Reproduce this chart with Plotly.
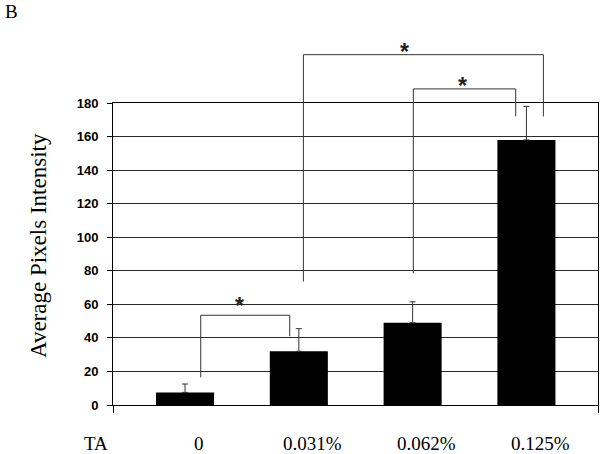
import plotly.graph_objects as go

# ---- data ----
categories = ["0", "0.031%", "0.062%", "0.125%"]
group_label = "TA"
means = [7.5, 32, 49, 158]
errors_up = [5, 13.5, 12.5, 20]
y_ticks = [0, 20, 40, 60, 80, 100, 120, 140, 160, 180]

# significance brackets (x in category-index units, y in data units)
brackets = [
    dict(x0=0.138, y0=16.5, x1=0.92, y1=41, top=53.5, star_x=0.483, star_y=62.6),
    dict(x0=1.04, y0=73.6, x1=3.149, y1=172, top=208.8, star_x=1.93, star_y=213.8),
    dict(x0=2.006, y0=78.6, x1=2.906, y1=172, top=188.4, star_x=2.44, star_y=193.9),
]

XR = [-0.633, 3.629]
YMAX = 180
W, H = 602, 454
ML, MR, MT, MB = 113, 4, 103, 49

def xp(x):
    return (x - XR[0]) / (XR[1] - XR[0])

def yp(y):
    return y / YMAX

xs = list(range(len(categories)))

fig = go.Figure()
fig.add_trace(go.Bar(
    x=xs, y=means, width=0.51,
    marker=dict(color="black", line=dict(width=0)),
    error_y=dict(type="data", array=errors_up, arrayminus=[0] * len(means),
                 symmetric=False, color="#333333", thickness=1, width=3),
))

shapes = []
annotations = []
line_style = dict(color="#333333", width=1)
for b in brackets:
    shapes.append(dict(type="path", xref="paper", yref="paper",
                       path=f"M {xp(b['x0'])} {yp(b['y0'])} L {xp(b['x0'])} {yp(b['top'])} "
                            f"L {xp(b['x1'])} {yp(b['top'])} L {xp(b['x1'])} {yp(b['y1'])}",
                       line=line_style))
    annotations.append(dict(x=xp(b['star_x']), y=yp(b['star_y']), xref="paper", yref="paper",
                            text="<b>*</b>", showarrow=False, xanchor="center", yanchor="middle",
                            yshift=-6,
                            font=dict(family="Liberation Sans", size=23, color="#222222")))

# category labels
for i, c in enumerate(categories):
    annotations.append(dict(x=xp(i + 0.12), y=(-38) / (H - MT - MB), xref="paper", yref="paper",
                            text=c, showarrow=False, xanchor="center", yanchor="middle",
                            font=dict(family="Liberation Serif", size=19, color="black")))
annotations.append(dict(x=-17 / (W - ML - MR), y=(-38) / (H - MT - MB), xref="paper", yref="paper",
                        text=group_label, showarrow=False, xanchor="center", yanchor="middle",
                        font=dict(family="Liberation Serif", size=19, color="black")))
# y title
annotations.append(dict(x=(38 - ML) / (W - ML - MR), y=(H - MB - 246) / (H - MT - MB),
                        xref="paper", yref="paper", text="Average Pixels Intensity",
                        textangle=-90, showarrow=False, xanchor="center", yanchor="middle",
                        font=dict(family="Liberation Serif", size=23, color="black")))
# panel letter
annotations.append(dict(x=(3 - ML) / (W - ML - MR), y=(H - MB - 12) / (H - MT - MB),
                        xref="paper", yref="paper", text="B", showarrow=False,
                        xanchor="left", yanchor="middle",
                        font=dict(family="Liberation Serif", size=19, color="black")))

fig.update_layout(
    width=W, height=H,
    margin=dict(l=ML, r=MR, t=MT, b=MB, pad=0),
    paper_bgcolor="white", plot_bgcolor="white",
    showlegend=False,
    shapes=shapes, annotations=annotations,
    xaxis=dict(range=XR, tickvals=XR, ticktext=["", ""], ticks="outside", ticklen=7,
               tickcolor="black", showgrid=False, zeroline=False,
               showline=True, linecolor="black", linewidth=1, mirror=True),
    yaxis=dict(range=[0, YMAX], tickvals=y_ticks, ticks="outside", ticklen=5,
               tickcolor="black", showgrid=True, gridcolor="#2a2a2a", gridwidth=1,
               zeroline=False, showline=True, linecolor="black", linewidth=1, mirror=True,
               tickfont=dict(family="Liberation Sans", size=13, color="black", weight="bold"),
               ticklabelstandoff=6),
)

fig.write_html("out.html", config={"displayModeBar": False},
               post_script="document.body.style.margin='0px';document.body.style.overflow='hidden';")
